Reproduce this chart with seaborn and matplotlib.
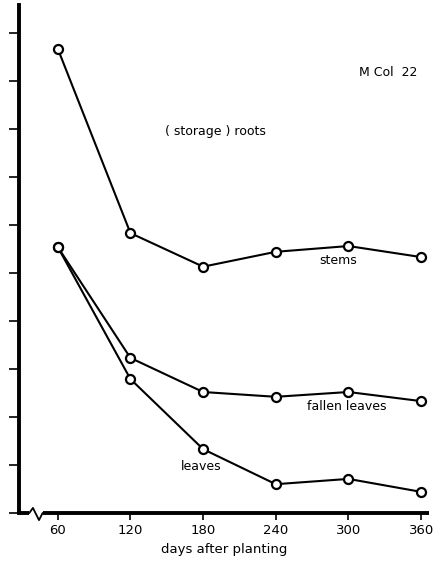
import matplotlib.pyplot as plt
import numpy as np
import pandas as pd
import seaborn as sns

# data (y in tick units, axis at 0)
days = [60, 120, 180, 240, 300, 360]
roots_line = [9.67, 5.83, 5.13, 5.44, 5.56, 5.33]     # upper line, roots above / stems below
stems_line = [5.54, 3.23, 2.52, 2.42, 2.52, 2.33]     # middle line, stems above / fallen leaves below
leaves_line = [5.54, 2.79, 1.33, 0.60, 0.71, 0.44]    # lower line, fallen leaves above / leaves below
x_ticks = [60, 120, 180, 240, 300, 360]
y_ticks = list(range(0, 11))

df = pd.DataFrame({
    "days": days * 3,
    "value": roots_line + stems_line + leaves_line,
    "line": ["roots"] * 6 + ["stems"] * 6 + ["leaves"] * 6,
})

sns.set_style("white")
plt.rcParams['font.family'] = ['DejaVu Sans']
plt.rcParams['text.color'] = 'black'
plt.rcParams['axes.labelcolor'] = 'black'
plt.rcParams['xtick.color'] = 'black'
plt.rcParams['ytick.color'] = 'black'

fig = plt.figure(figsize=(4.48, 5.69), dpi=100)
ax = fig.add_axes([19 / 448, 1 - 513 / 569, (429 - 19) / 448, (513 - 5) / 569])

sns.lineplot(data=df, x="days", y="value", units="line", estimator=None,
             color="black", lw=1.5, marker="o", markersize=6.5,
             markerfacecolor="white", markeredgecolor="black", markeredgewidth=1.6,
             ax=ax, legend=False)

ax.set_xlim(28, 366.5)
ax.set_ylim(0, 10.58)
ax.set_xticks(x_ticks)
ax.set_xticklabels([str(t) for t in x_ticks], fontsize=9.5)
ax.set_yticks(y_ticks)
ax.set_yticklabels([])
ax.tick_params(axis="y", direction="out", length=7, width=1.2, left=True)
ax.tick_params(axis="x", direction="out", length=5, width=1.2, bottom=True, pad=3)
ax.set_xlabel("days after planting", fontsize=9.5, labelpad=4)
ax.set_ylabel("")

for s in ["top", "right"]:
    ax.spines[s].set_visible(False)
ax.spines["left"].set_linewidth(2.8)
ax.spines["left"].set_color("black")
ax.spines["bottom"].set_visible(False)

# x axis with a break mark near the origin
tr = ax.get_xaxis_transform()
ax.plot([28, 36.5], [0, 0], color="black", lw=2.8, transform=tr, clip_on=False, solid_capstyle="butt")
ax.plot([36.5, 39.5, 44.5, 47.5], [0, 0.01, -0.014, 0], color="black", lw=1.3,
        transform=tr, clip_on=False)
ax.plot([47.5, 366.5], [0, 0], color="black", lw=2.8, transform=tr, clip_on=False, solid_capstyle="butt")

# area labels
ax.text(388 / 448, 1 - 73 / 569, "M Col  22", transform=fig.transFigure,
        ha="center", va="center", fontsize=9)
ax.text(215 / 448, 1 - 132 / 569, "( storage ) roots", transform=fig.transFigure,
        ha="center", va="center", fontsize=9)
ax.text(338 / 448, 1 - 261 / 569, "stems", transform=fig.transFigure,
        ha="center", va="center", fontsize=9)
ax.text(347 / 448, 1 - 406 / 569, "fallen leaves", transform=fig.transFigure,
        ha="center", va="center", fontsize=9)
ax.text(201 / 448, 1 - 467 / 569, "leaves", transform=fig.transFigure,
        ha="center", va="center", fontsize=9)

fig.savefig("out.png", dpi=100)
